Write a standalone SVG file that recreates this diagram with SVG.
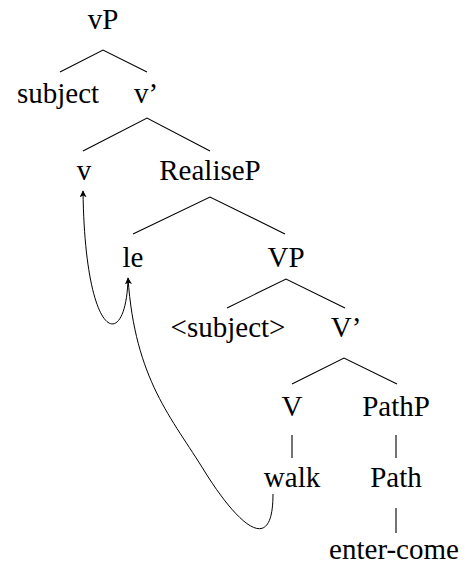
<svg xmlns="http://www.w3.org/2000/svg" width="466" height="570" viewBox="0 0 466 570">
<style>
.t{font-family:'Liberation Serif','DejaVu Serif',serif;font-size:29px;fill:#000;text-anchor:middle}
.e{stroke:#000;stroke-width:1.1;fill:none}
.m{stroke:#000;stroke-width:1;fill:none;marker-end:url(#ah)}
</style>
<defs>
<marker id="ah" viewBox="0 0 10 10" refX="9" refY="5" markerWidth="7" markerHeight="7" markerUnits="userSpaceOnUse" orient="auto">
<path d="M0,0 L10,5 L0,10 L2.5,5 Z" fill="#000"/>
</marker>
</defs>
<rect width="466" height="570" fill="#fff"/>
<g class="t" font-family="Liberation Serif, serif">
<g id="vP"><text x="103" y="29">vP</text></g>
<g id="subject"><text x="58" y="103">subject</text></g>
<g id="v1"><text x="146" y="103">v’</text></g>
<g id="v"><text x="84" y="180">v</text></g>
<g id="RealiseP"><text x="210" y="180">RealiseP</text></g>
<g id="le"><text x="133" y="267">le</text></g>
<g id="VP"><text x="286" y="267">VP</text></g>
<g id="subj2"><text x="228" y="337">&lt;subject&gt;</text></g>
<g id="V1"><text x="346" y="337">V’</text></g>
<g id="V"><text x="292" y="416">V</text></g>
<g id="PathP"><text x="396" y="416">PathP</text></g>
<g id="walk"><text x="292" y="487">walk</text></g>
<g id="Path"><text x="396" y="487">Path</text></g>
<g id="entercome"><text x="394" y="559">enter-come</text></g>
</g>
<g id="connectors">
<path class="e" d="M60,72 L103,50 L147,72"/>
<path class="e" d="M83,151 L147,118 L210,151"/>
<path class="e" d="M133,234 L210,197 L285,234"/>
<path class="e" d="M227,308 L286,279 L345,308"/>
<path class="e" d="M292,384 L344,358 L397,384"/>
<path class="e" d="M292,435 L292,458"/>
<path class="e" d="M396,435 L396,458"/>
<path class="e" d="M396,508 L396,533"/>
<path class="m" d="M128,279 C126,352 85,345 83,191"/>
<path class="m" d="M273,494 C273,560 235,520 205,472 C172,418 135,380 128,278"/>
</g>
</svg>
